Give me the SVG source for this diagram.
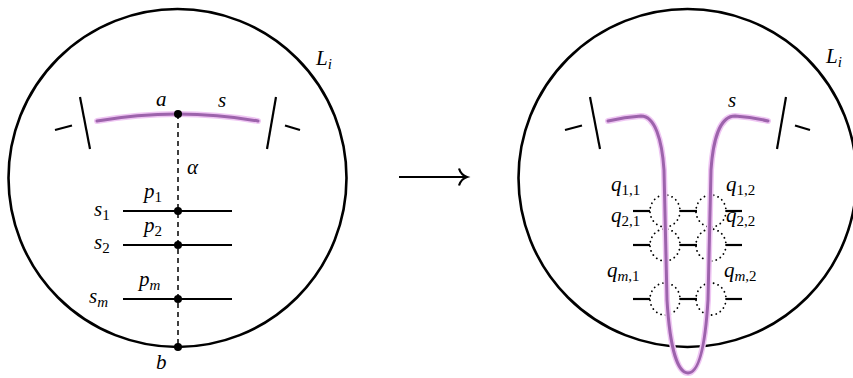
<svg xmlns="http://www.w3.org/2000/svg" width="853" height="378" viewBox="0 0 853 378">
<style>
.circ{fill:none;stroke:#000;stroke-width:2.6}
.ln{stroke:#000;stroke-width:2.2;fill:none}
.halo{fill:none;stroke:#efc6f3;stroke-width:6;stroke-linecap:round;stroke-linejoin:round}
.pur{fill:none;stroke:#9d63ac;stroke-width:3;stroke-linecap:round;stroke-linejoin:round}
.dash{stroke:#000;stroke-width:1.5;stroke-dasharray:5 4;fill:none}
.dot{fill:#000}
.dotc{fill:none;stroke:#000;stroke-width:1.8;stroke-dasharray:0.1 4.6;stroke-linecap:round}
.t{font-family:'Liberation Serif','DejaVu Serif','Times New Roman',serif;font-style:italic;font-size:21px;fill:#000}
.sub{font-size:15px;font-style:normal}
.subi{font-size:15px;font-style:italic}
</style>
<g id="left">
  <g id="left-disk"><circle class="circ" cx="177.5" cy="178" r="169"/>
    <text class="t" x="316" y="65">L<tspan class="subi" dy="4">i</tspan></text></g>
  <g id="left-ends">
    <line class="ln" x1="55" y1="130" x2="72" y2="125.5"/>
    <line class="ln" x1="80" y1="97" x2="90" y2="149"/>
    <line class="ln" x1="276" y1="97" x2="267" y2="149"/>
    <line class="ln" x1="285" y1="125.5" x2="300" y2="130"/>
  </g>
  <g id="left-arc">
    <path class="halo" d="M97,121 Q178,107 258,121"/>
    <path class="pur" d="M97,121 Q178,107 258,121"/>
    <text class="t" x="156" y="106">a</text>
    <text class="t" x="218" y="107">s</text>
  </g>
  <g id="alpha">
    <line class="dash" x1="178" y1="114" x2="178" y2="347"/>
    <text class="t" x="187" y="174">α</text>
  </g>
  <g id="s1"><line class="ln" x1="123" y1="211" x2="232" y2="211"/>
    <text class="t" x="94" y="216">s<tspan class="sub" dy="4">1</tspan></text>
    <text class="t" x="144" y="198">p<tspan class="sub" dy="4">1</tspan></text></g>
  <g id="s2"><line class="ln" x1="123" y1="245" x2="232" y2="245"/>
    <text class="t" x="94" y="249">s<tspan class="sub" dy="4">2</tspan></text>
    <text class="t" x="144" y="232">p<tspan class="sub" dy="4">2</tspan></text></g>
  <g id="sm"><line class="ln" x1="123" y1="299" x2="232" y2="299"/>
    <text class="t" x="89" y="303">s<tspan class="subi" dy="4">m</tspan></text>
    <text class="t" x="139" y="286">p<tspan class="subi" dy="4">m</tspan></text></g>
  <g id="points">
    <circle class="dot" cx="178" cy="114" r="4"/>
    <circle class="dot" cx="178" cy="211" r="4"/>
    <circle class="dot" cx="178" cy="245" r="4"/>
    <circle class="dot" cx="178" cy="299" r="4"/>
    <circle class="dot" cx="178" cy="347" r="4"/>
    <text class="t" x="156" y="369">b</text>
  </g>
</g>
<g id="connectors">
  <line class="ln" x1="399" y1="177" x2="466" y2="177" stroke-width="2"/>
  <path class="ln" stroke-width="2" d="M459,168.5 Q461,175 467,177 Q461,179 459,185.5"/>
</g>
<g id="right">
  <g id="right-disk"><circle class="circ" cx="687.5" cy="178" r="169"/>
    <text class="t" x="826" y="63">L<tspan class="subi" dy="4">i</tspan></text></g>
  <g id="right-ends">
    <line class="ln" x1="565" y1="130" x2="582" y2="125.5"/>
    <line class="ln" x1="590" y1="97" x2="600" y2="149"/>
    <line class="ln" x1="786" y1="97" x2="777" y2="149"/>
    <line class="ln" x1="795" y1="125.5" x2="810" y2="130"/>
  </g>
  <g id="crossings">
    <line class="ln" x1="633" y1="211" x2="650" y2="211"/>
    <line class="ln" x1="680" y1="211" x2="697" y2="211"/>
    <line class="ln" x1="726" y1="211" x2="742" y2="211"/>
    <line class="ln" x1="633" y1="245" x2="650" y2="245"/>
    <line class="ln" x1="680" y1="245" x2="697" y2="245"/>
    <line class="ln" x1="726" y1="245" x2="742" y2="245"/>
    <line class="ln" x1="633" y1="299" x2="650" y2="299"/>
    <line class="ln" x1="680" y1="299" x2="697" y2="299"/>
    <line class="ln" x1="726" y1="299" x2="742" y2="299"/>
    <ellipse class="dotc" cx="665" cy="211" rx="15" ry="16"/>
    <ellipse class="dotc" cx="711" cy="211" rx="15" ry="16"/>
    <ellipse class="dotc" cx="665" cy="245" rx="15" ry="16"/>
    <ellipse class="dotc" cx="711" cy="245" rx="15" ry="16"/>
    <ellipse class="dotc" cx="665" cy="299" rx="15" ry="16"/>
    <ellipse class="dotc" cx="711" cy="299" rx="15" ry="16"/>
  </g>
  <g id="strand">
    <path class="halo" d="M608,121 Q625,117 641,116 C655,116 662,140 664,170 L667,300 C670,350 678,373 688,373 C698,373 705,350 708,300 L711,170 C713,140 720,116 735,116 Q752,117 768,121"/>
    <path class="pur" d="M608,121 Q625,117 641,116 C655,116 662,140 664,170 L667,300 C670,350 678,373 688,373 C698,373 705,350 708,300 L711,170 C713,140 720,116 735,116 Q752,117 768,121"/>
    <text class="t" x="728" y="107">s</text>
  </g>
  <g id="qlabels">
    <text class="t" x="611" y="191">q<tspan class="sub" dy="4">1,1</tspan></text>
    <text class="t" x="726" y="191">q<tspan class="sub" dy="4">1,2</tspan></text>
    <text class="t" x="611" y="222">q<tspan class="sub" dy="4">2,1</tspan></text>
    <text class="t" x="726" y="222">q<tspan class="sub" dy="4">2,2</tspan></text>
    <text class="t" x="607" y="277">q<tspan class="subi" dy="4">m</tspan><tspan class="sub">,1</tspan></text>
    <text class="t" x="724" y="277">q<tspan class="subi" dy="4">m</tspan><tspan class="sub">,2</tspan></text>
  </g>
</g>
</svg>
